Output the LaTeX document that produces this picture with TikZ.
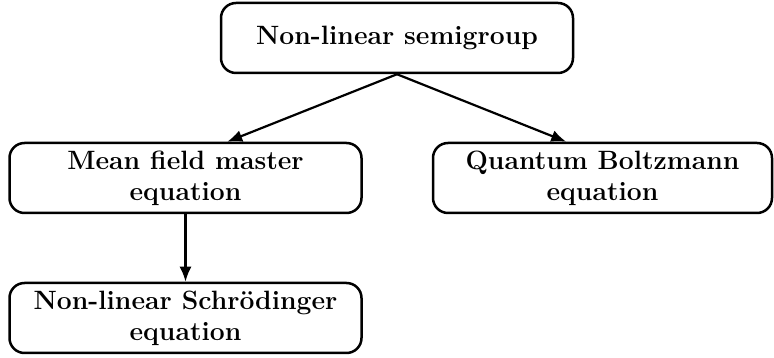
\documentclass[tikz,border=0pt]{standalone}
\usepackage{fontspec}
\usepackage{tikz}
\usetikzlibrary{arrows.meta}

\tikzset{
  box/.style={draw,line width=2.5pt,rounded corners=15pt,align=center,
    minimum height=70pt,font=\fontsize{26.5}{31}\selectfont\bfseries},
  link/.style={line width=2.2pt,-{Latex[length=15pt,width=12pt]}}
}

\begin{document}
\begin{tikzpicture}[x=1pt,y=1pt]
    \useasboundingbox (0,0) rectangle (774,358);

    \node (semi) at (397,320) [box,minimum width=352pt] {Non-linear semigroup};
    \node (mean) at (185.5,180) [box,minimum width=352pt] {Mean field master\\equation};
    \node (boltz) at (602.5,180) [box,minimum width=339pt] {Quantum Boltzmann\\equation};
    \node (schr) at (185.5,40) [box,minimum width=352pt] {Non-linear Schr\"odinger\\equation};

    \draw[link]
    (semi.south) to (mean.41);
    \draw[link]
    (semi.south) to (boltz.135);
    \draw[link]
    (mean.south) to (schr.north);
  \end{tikzpicture}
\end{document}
